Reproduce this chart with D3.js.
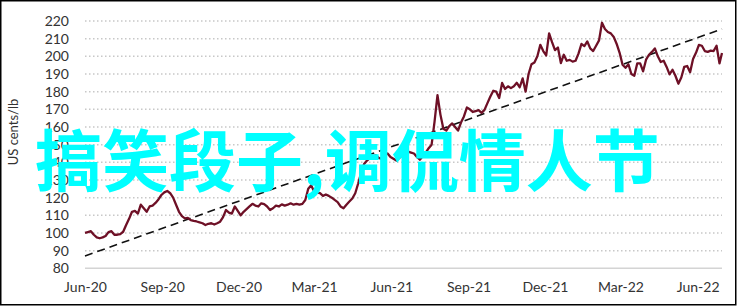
<!DOCTYPE html>
<html><head><meta charset="utf-8">
<script src="https://cdn.jsdelivr.net/npm/d3@7/dist/d3.min.js"></script>
<style>body{margin:0;background:#fff}svg{display:block}</style>
</head><body><svg id="c" width="738" height="307"></svg>
<script>
const xTickLabels = ["Jun-20","Sep-20","Dec-20","Mar-21","Jun-21","Sep-21","Dec-21","Mar-22","Jun-22"];
const xTickDates = ["2020-06-01","2020-09-01","2020-12-01","2021-03-01","2021-06-01","2021-09-01","2021-12-01","2022-03-01","2022-06-01"];
const yTicks = [80,90,100,110,120,130,140,150,160,170,180,190,200,210,220];
const seriesStart = "2020-06-01";
const seriesStepHours = 84; // twice-weekly observations
const prices = [
 100,100.5,101,99,97.5,97,97.5,98.3,100.5,101,
 99,99,99.4,100.7,104.5,108,112,112.5,111,116,
 114,112,115,115.5,117,119,121.5,123,123.8,122.5,
 120,116,112,109.5,108.3,108.5,107.3,106.8,106.5,106,
 105.5,104.5,105.2,105.5,104.8,105.5,106.4,109,113,111.5,
 111,115,112.5,110,112,113.5,115,116.5,115.5,115,
 116.8,116.3,115,113,114,115.5,115,116.2,115.5,116,
 116.8,116,116.5,116,116.5,118.7,125,127,123.4,122.8,
 122.5,121,121.8,121,120,118.7,117.5,115,114,116,
 117.8,119.5,122.5,128,134,139,141,142.5,143.5,144,
 142.5,142,144.5,145,143,142,141,142.5,144,145,
 146,145.5,145,143,141.5,143.5,145.5,148,150,163,
 178,167,159,158,160.5,162,160,158,162.5,166,
 171,170,168.5,169,169.5,168,169.7,173.5,177.3,180.5,
 180,176.4,184.9,181.5,183,182,183,185,182.5,187.5,
 180,190,195.5,196.5,200,206.5,203,200.5,213,208,
 203.5,205,196.2,200.9,197.5,198,197,197.5,201.5,207,
 205.8,208.4,204.5,203,206,209,219,215.5,213.8,213,
 211,207,202,195.2,193.5,195.5,190,189,196,196,
 191.5,198.1,200.9,202.5,204.5,200,196.8,197.5,194,189.8,
 192.4,189,184.5,188,194,194.5,191,198.5,202,206.5,
 206,203,202.5,203.2,203,206,196
];
const seriesEnd = ["2022-06-30", 201.9];
const trendDates = ["2020-06-01","2022-06-30"];
const trendValues = [87, 215.5];
const yTitle = "US cents/lb";
const overlayText = "搞笑段子,调侃情人节";

const parse = d3.timeParse("%Y-%m-%d");
const start = parse(seriesStart);
const series = prices.map((v,i)=>({date:d3.timeHour.offset(start, i*seriesStepHours), value:v}));
series.push({date:parse(seriesEnd[0]), value:seriesEnd[1]});
const trend = trendDates.map((d,i)=>({date:parse(d), value:trendValues[i]}));

const svg = d3.select("#c");
const x = d3.scaleTime().domain([parse("2020-06-01"), parse("2022-06-30")]).range([85, 722]);
const y = d3.scaleLinear().domain([80,220]).range([268.3, 21]);

// border
svg.append("rect").attr("x",0.75).attr("y",0.75).attr("width",735).attr("height",304)
  .attr("fill","#fff").attr("stroke","#000").attr("stroke-width",1.5);

// grid
svg.append("g").selectAll("line").data(yTicks).join("line")
  .attr("x1",x.range()[0]).attr("x2",x.range()[1])
  .attr("y1",d=>y(d)).attr("y2",d=>y(d))
  .attr("stroke",d=>d===80?"#d4d4d4":"#c8c8c8")
  .attr("stroke-width",1.5)
  .attr("stroke-dasharray",d=>d===80?null:"1.5,2.5");

// y axis
const yAxis = svg.append("g").attr("transform","translate(85,0)")
  .call(d3.axisLeft(y).tickValues(yTicks).tickSize(0).tickPadding(16));
yAxis.select(".domain").remove();
yAxis.selectAll("text").attr("font-family","Lato, 'Open Sans', sans-serif").attr("font-size",14).attr("fill","#333");

// x axis
const xAxis = svg.append("g").attr("transform","translate(0,268.3)")
  .call(d3.axisBottom(x).tickValues(xTickDates.map(parse)).tickFormat((d,i)=>xTickLabels[i]).tickSize(0).tickPadding(14));
xAxis.select(".domain").remove();
xAxis.selectAll("text").attr("font-family","Lato, 'Open Sans', sans-serif").attr("font-size",14).attr("fill","#333");

// y title
svg.append("text").attr("transform","translate(18,132) rotate(-90)")
  .attr("text-anchor","middle").attr("font-family","Lato, 'Open Sans', sans-serif")
  .attr("font-size",13).attr("fill","#333").text(yTitle);

// trend
svg.append("path").datum(trend)
  .attr("d", d3.line().x(d=>x(d.date)).y(d=>y(d.value)))
  .attr("fill","none").attr("stroke","#111").attr("stroke-width",1.6).attr("stroke-dasharray","8,5");

// series
svg.append("path").datum(series)
  .attr("d", d3.line().x(d=>x(d.date)).y(d=>y(d.value)))
  .attr("fill","none").attr("stroke","#6e1026").attr("stroke-width",2.3).attr("stroke-linejoin","round");

// overlay text
svg.append("text").attr("x",35).attr("y",186)
  .attr("font-family","'Noto Sans CJK SC', sans-serif").attr("font-weight",700)
  .attr("font-size",67).attr("fill","#00ffff").text(overlayText);
</script></body></html>
